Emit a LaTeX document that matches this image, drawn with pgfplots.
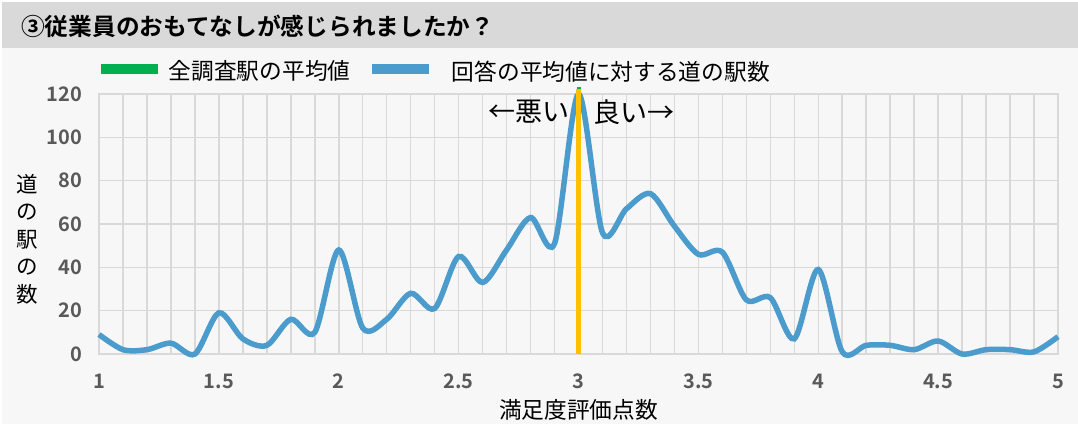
\documentclass[border=0pt]{standalone}
\usepackage{pgfplots}
\pgfplotsset{compat=1.18}
\usepackage{fontspec}
\setmainfont{Noto Sans CJK JP}[BoldFont={Noto Sans CJK JP Bold}]

\definecolor{bgpanel}{HTML}{F7F7F7}
\definecolor{titlebar}{HTML}{D9D9D9}
\definecolor{gridgray}{HTML}{D9D9D9}
\definecolor{ticktext}{HTML}{595959}
\definecolor{curveblue}{HTML}{4B9CCC}
\definecolor{avggreen}{HTML}{00B050}
\definecolor{avgorange}{HTML}{FFC000}

\begin{document}
\begin{tikzpicture}[x=1pt,y=1pt]
% canvas and title bar
\fill[white] (0,0) rectangle (1078,430);
\fill[bgpanel] (2,5.5) rectangle (1078,382);
\fill[titlebar] (2,382) rectangle (1078,428.3);
\useasboundingbox (0,0) rectangle (1078,430);
\node[anchor=west, inner sep=0pt, font=\fontsize{23.7}{28}\selectfont\bfseries]
  at (21,404) {③従業員のおもてなしが感じられましたか？};

\begin{axis}[
  at={(99pt,76pt)}, anchor=south west,
  scale only axis, width=959pt, height=260pt,
  xmin=1, xmax=5, ymin=0, ymax=120,
  clip=false,
  xtick={1,1.5,...,5}, ytick={0,20,...,120},
  minor x tick num=4,
  grid=both,
  major grid style={draw=gridgray, line width=1.5pt},
  minor grid style={draw=gridgray, line width=1.5pt},
  axis line style={draw=gridgray, line width=1.5pt},
  major tick length=0pt, minor tick length=0pt,
  tick label style={font=\fontsize{20}{24}\selectfont\bfseries, text=ticktext},
  /pgf/number format/assume math mode=true,
  xticklabel style={anchor=center, yshift=-27pt, inner sep=0pt},
  yticklabel style={anchor=east, xshift=-17pt, inner sep=0pt},
  xlabel={満足度評価点数},
  xlabel style={at={(axis description cs:0.5,-0.215)}, anchor=center,
    font=\fontsize{22.7}{27}\selectfont},
  ylabel={道\\の\\駅\\の\\数},
  ylabel style={at={(axis description cs:-0.0751,0.442)}, anchor=center,
    rotate=-90, align=center, font=\fontsize{21.5}{27.5}\selectfont},
  legend columns=2,
  legend image code/.code={\draw[#1, line width=10.5pt] (0pt,2pt) -- (57pt,2pt);},
  legend style={draw=none, fill=none, inner sep=0pt,
    at={(axis description cs:-0.004,1.088)}, anchor=west,
    font=\fontsize{22.7}{27}\selectfont,
    nodes={inner sep=0pt},
    /tikz/column 1/.style={column sep=6pt},
    /tikz/column 2/.style={column sep=16pt},
    /tikz/column 3/.style={column sep=18pt}},
]
% overall average of all surveyed stations
\addplot[color=avggreen, line width=4pt] coordinates {(3,0) (3,123.3)};
\addlegendentry{全調査駅の平均値}

% number of stations per average rating
\addplot[color=curveblue, line width=5.5pt, smooth, tension=0.5] coordinates {
  (1.0,9) (1.1,2) (1.2,2) (1.3,5) (1.4,0) (1.5,19) (1.6,7) (1.7,4) (1.8,16) (1.9,10)
  (2.0,48) (2.1,12) (2.2,16) (2.3,28) (2.4,21) (2.5,45) (2.6,33) (2.7,48) (2.8,63) (2.9,51)
  (3.0,120) (3.1,56) (3.2,67) (3.3,74) (3.4,59) (3.5,46) (3.6,47) (3.7,25) (3.8,26) (3.9,7)
  (4.0,39) (4.1,1) (4.2,4) (4.3,4) (4.4,2) (4.5,6) (4.6,0) (4.7,2) (4.8,2) (4.9,1) (5.0,8)
};
\addlegendentry{回答の平均値に対する道の駅数}

\addplot[color=avgorange, line width=4.5pt, forget plot] coordinates {(3,0) (3,122.5)};

\node[anchor=east, inner sep=0pt, font=\fontsize{27}{30}\selectfont]
  at (axis cs:2.9646,111.8) {←悪い};
\node[anchor=west, inner sep=0pt, font=\fontsize{27}{30}\selectfont]
  at (axis cs:3.0605,111.8) {良い→};
\end{axis}
\end{tikzpicture}
\end{document}
